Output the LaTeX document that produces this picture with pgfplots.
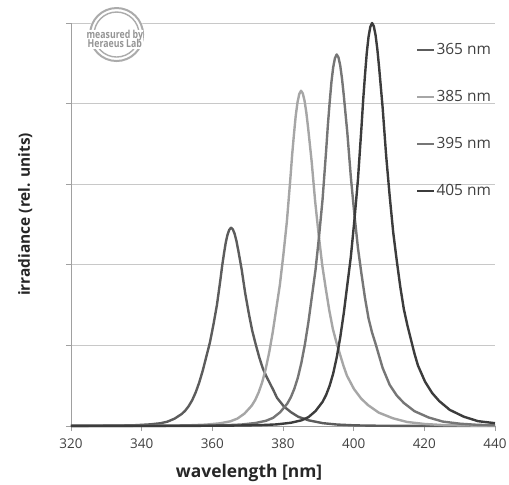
\documentclass[border=0pt]{standalone}
\usepackage{pgfplots}
\pgfplotsset{compat=1.18}
\usepackage{fontspec}
\usepackage{graphicx}
\setmainfont{Open Sans}
\definecolor{cA}{HTML}{5C5C5C}
\definecolor{cB}{HTML}{A6A6A6}
\definecolor{cC}{HTML}{767676}
\definecolor{cD}{HTML}{3C3C3C}
\definecolor{gridc}{HTML}{C8C8C8}
\definecolor{axc}{HTML}{A0A0A0}
\definecolor{txt}{HTML}{404040}
\definecolor{lab}{HTML}{262626}
\definecolor{stamp}{HTML}{ABABAB}
\definecolor{stamptxt}{HTML}{959595}
\begin{document}
\begin{tikzpicture}
\useasboundingbox (-71bp,-59bp) rectangle (438bp,426bp);
\begin{axis}[
  scale only axis, width=424bp, height=403bp,
  xmin=320, xmax=440, ymin=0, ymax=5,
  axis x line=bottom, axis y line=left,
  axis line style={axc, line width=0.9bp, -},
  xtick={320,340,...,440}, ytick={0,1,...,5}, yticklabels={},
  ymajorgrids, grid style={gridc, line width=0.9bp},
  tick align=outside, major tick length=5bp,
  tick style={axc, line width=0.9bp},
  /pgf/number format/assume math mode=true,
  /pgf/number format/1000 sep={},
  ticklabel style={font=\fontsize{13.5}{15}\selectfont, text=txt},
  xticklabel style={yshift=-4bp},
  clip=false,
  xlabel={wavelength [nm]},
  xlabel style={font=\fontsize{17.5}{20}\bfseries, text=lab, at={([yshift=-51.5bp]axis description cs:0.42,0)}, anchor=base},
  ylabel={irradiance (rel. units)},
  ylabel style={font=\fontsize{15.5}{18}\bfseries, text=lab, at={([xshift=-41bp]axis description cs:0,0.525)}, anchor=base},
  legend style={draw=none, fill=none, inner sep=0pt, row sep=33bp, column sep=1.5bp,
    at={(axis cs:417.6,4.75)}, anchor=north west,
    font=\fontsize{15.5}{17}\selectfont, text=txt,
    nodes={inner sep=0pt, text height=11.5bp, text depth=2.5bp}},
  legend cell align=left,
  legend image code/.code={\draw[#1, line width=2bp] (0bp,0bp) -- (17bp,0bp);},
  every axis plot/.append style={line width=2.4bp, line join=round},
]
% 365 nm
\addplot[cA] coordinates {
(320,0.001) (333.3,0.005) (338.3,0.010) (342.3,0.020) (345.3,0.034) (347.3,0.054)
(349.3,0.091) (351.3,0.148) (352.3,0.189) (353.3,0.246) (354.3,0.320) (355.3,0.418)
(356.3,0.541) (357.3,0.689) (358.3,0.861) (359.3,1.033) (360.3,1.255) (361.3,1.501)
(362.3,1.820) (362.8,1.993) (363.3,2.140) (363.8,2.276) (364.3,2.374) (364.8,2.435)
(365.3,2.460) (365.8,2.440) (366.3,2.386) (366.8,2.300) (367.3,2.189) (367.8,2.066)
(368.3,1.943) (369.3,1.648) (370.3,1.402) (371.3,1.181) (372.3,1.009) (373.3,0.849)
(374.3,0.713) (375.3,0.615) (376.3,0.529) (377.3,0.443) (378.3,0.350) (380.3,0.240)
(382.3,0.170) (384.3,0.115) (387.3,0.070) (391.3,0.035) (395.3,0.018) (400.3,0.008)
(405.3,0.004) (415.3,0.001) (440,0.000)
};
\addlegendentry{365 nm}
% 385 nm
\addplot[cB] coordinates {
(320,0.001) (335.1,0.002) (345.1,0.004) (353.1,0.008) (358.1,0.017) (362.1,0.033)
(365.1,0.058) (367.1,0.092) (369.1,0.154) (371.1,0.250) (372.1,0.320) (373.1,0.416)
(374.1,0.541) (375.1,0.707) (376.1,0.915) (377.1,1.165) (378.1,1.456) (379.1,1.747)
(380.1,2.122) (381.1,2.538) (382.1,3.078) (382.6,3.370) (383.1,3.619) (383.6,3.848)
(384.1,4.014) (384.6,4.118) (385.1,4.160) (385.6,4.127) (386.1,4.035) (386.6,3.890)
(387.1,3.702) (387.6,3.494) (388.1,3.286) (389.1,2.787) (390.1,2.371) (391.1,1.997)
(392.1,1.706) (393.1,1.435) (394.1,1.206) (395.1,1.040) (396.1,0.894) (397.1,0.749)
(398.1,0.624) (400.1,0.458) (402.1,0.341) (404.1,0.258) (407.1,0.166) (411.1,0.096)
(415.1,0.050) (420.1,0.025) (425.1,0.012) (435.1,0.004) (440,0.003)
};
\addlegendentry{385 nm}
% 395 nm
\addplot[cC] coordinates {
(320,0.001) (345.2,0.002) (355.2,0.005) (363.2,0.009) (368.2,0.018) (372.2,0.037)
(375.2,0.065) (377.2,0.101) (379.2,0.171) (381.2,0.277) (382.2,0.355) (383.2,0.461)
(384.2,0.599) (385.2,0.784) (386.2,1.014) (387.2,1.291) (388.2,1.614) (389.2,1.936)
(390.2,2.351) (391.2,2.812) (392.2,3.411) (392.7,3.734) (393.2,4.011) (393.7,4.264)
(394.2,4.449) (394.7,4.564) (395.2,4.610) (395.7,4.573) (396.2,4.472) (396.7,4.310)
(397.2,4.103) (397.7,3.872) (398.2,3.642) (399.2,3.089) (400.2,2.628) (401.2,2.213)
(402.2,1.890) (403.2,1.590) (404.2,1.337) (405.2,1.160) (406.2,1.020) (407.2,0.870)
(408.2,0.720) (410.2,0.510) (412.2,0.378) (414.2,0.286) (417.2,0.184) (421.2,0.106)
(425.2,0.055) (430.2,0.028) (435.2,0.014) (440,0.010)
};
\addlegendentry{395 nm}
% 405 nm
\addplot[cD] coordinates {
(320,0.001) (355.2,0.002) (365.2,0.005) (373.2,0.010) (378.2,0.020) (382.2,0.040)
(385.2,0.070) (387.2,0.110) (389.2,0.185) (391.2,0.300) (392.2,0.385) (393.2,0.500)
(394.2,0.650) (395.2,0.850) (396.2,1.100) (397.2,1.400) (398.2,1.750) (399.2,2.100)
(400.2,2.550) (401.2,3.050) (402.2,3.700) (402.7,4.050) (403.2,4.350) (403.7,4.625)
(404.2,4.825) (404.7,4.950) (405.2,5.000) (405.7,4.960) (406.2,4.850) (406.7,4.675)
(407.2,4.450) (407.7,4.200) (408.2,3.950) (409.2,3.350) (410.2,2.850) (411.2,2.400)
(412.2,2.050) (413.2,1.725) (414.2,1.450) (415.2,1.250) (416.2,1.075) (417.2,0.900)
(418.2,0.750) (420.2,0.550) (422.2,0.410) (424.2,0.310) (427.2,0.200) (431.2,0.115)
(435.2,0.060) (440,0.035)
};
\addlegendentry{405 nm}
% stamp
\fill[white] (axis cs:332.9,4.857) circle[radius=28bp];
\draw[stamp, line width=2bp] (axis cs:332.9,4.857) circle[radius=26.5bp];
\draw[stamp, line width=1.4bp] (axis cs:332.9,4.857) circle[radius=22.5bp];
\node[fill=white, inner xsep=0bp, inner ysep=0.5bp, text=stamptxt, align=center, font=\fontsize{11}{11}\bfseries]
  at (axis cs:332.4,4.80) {\scalebox{0.8}[1]{measured by}\\[-1.5bp]\scalebox{0.8}[1]{Heraeus Lab}};
\end{axis}
\end{tikzpicture}
\end{document}
